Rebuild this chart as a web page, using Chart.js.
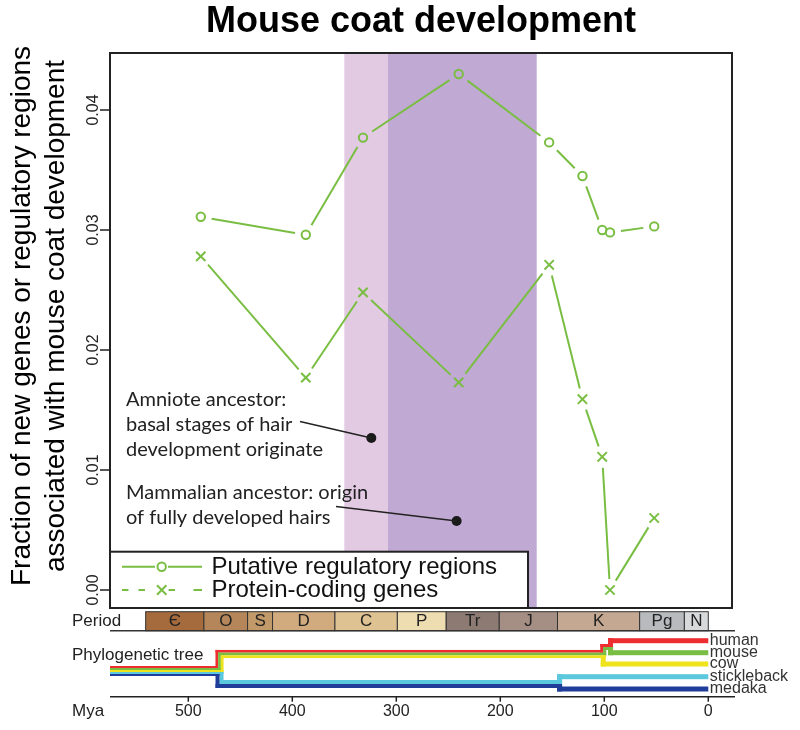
<!DOCTYPE html>
<html>
<head>
<meta charset="utf-8">
<script src="https://cdn.jsdelivr.net/npm/chart.js@4.4.1/dist/chart.umd.min.js"></script>
<style>
  html, body { margin: 0; padding: 0; background: #fff; }
  #wrap { width: 800px; height: 730px; }
</style>
</head>
<body>
<div id="wrap"><canvas id="chart" width="800" height="730"></canvas></div>
<script>
// ===== Data (ages in million years ago) =====
const agesMya = [488, 387, 332, 240, 153, 121, 102, 94.5, 52];
const regulatoryFraction = [0.0311, 0.0296, 0.0377, 0.0430, 0.0373, 0.0345, 0.0300, 0.0298, 0.0303];
const codingFraction = [0.0278, 0.0177, 0.0248, 0.0173, 0.0271, 0.0159, 0.0111, 0.0000, 0.0060];
const yTicks = [0, 0.01, 0.02, 0.03, 0.04];
const myaTicks = [500, 400, 300, 200, 100, 0];

// shaded windows (Mya)
const amnioteWindow = [350, 308];
const mammalWindow = [308, 165];

// annotated ancestors
const ancestorMya = [324, 242];
const ancestorFraction = [0.01267, 0.00575];
const ancestorText = [
  ["Amniote ancestor:", "basal stages of hair", "development originate"],
  ["Mammalian ancestor: origin", "of fully developed hairs"]
];

// geological periods
const periodBounds = [541, 485, 443, 419, 359, 299, 252, 201, 145, 66, 23, 0];
const periodLabels = ["Є", "O", "S", "D", "C", "P", "Tr", "J", "K", "Pg", "N"];

// phylogenetic tree
const species = ["human", "mouse", "cow", "stickleback", "medaka"];
const splitMya = { vertebrate: 470, teleost: 143, boreoeutheria: 101, euarchontoglires: 94 };

// ===== Styles =====
const FONT = "'Liberation Sans', Arial, sans-serif";
const NOTE_FONT = "Lato, 'Open Sans', sans-serif";
const GREEN = "#79BE43";
const INK = "#222";
const periodColors = ["#A56B3D", "#B58659", "#C29A6A", "#D1AB7E", "#DFC292", "#EEDDB0",
                      "#8D7B73", "#A58E83", "#C4A891", "#B8BABD", "#D8D9DB"];
const speciesColors = ["#ED2D2F", "#78BE43", "#EEE31C", "#5CC8DD", "#203D99"];

// ===== Helpers =====
function gappedLine(ctx, pts, gap) {
  for (let i = 0; i < pts.length - 1; i++) {
    const p = pts[i], q = pts[i + 1];
    const dx = q.x - p.x, dy = q.y - p.y;
    const len = Math.hypot(dx, dy);
    if (len <= gap * 2) continue;
    const ux = dx / len, uy = dy / len;
    ctx.beginPath();
    ctx.moveTo(p.x + ux * gap, p.y + uy * gap);
    ctx.lineTo(q.x - ux * gap, q.y - uy * gap);
    ctx.stroke();
  }
}

function rotatedText(ctx, text, x, y) {
  ctx.save();
  ctx.translate(x, y);
  ctx.rotate(-Math.PI / 2);
  ctx.fillText(text, 0, 0);
  ctx.restore();
}

// one lineage drawn as horizontal runs joined by short vertical steps
function drawRoute(ctx, x, runs, turns, color) {
  ctx.fillStyle = color;
  const px = runs.map(r => [x.getPixelForValue(r[0]), x.getPixelForValue(r[1])]);
  for (let i = 0; i < runs.length; i++) {
    const [, , y, w] = runs[i];
    let x0 = px[i][0], x1 = px[i][1];
    if (i > 0) x0 = px[i][0] + turns[i - 1] - w / 2;
    if (i < runs.length - 1) x1 = px[i][1] + turns[i] + runs[i + 1][3] / 2;
    ctx.fillRect(x0, y - w / 2, x1 - x0, w);
    if (i > 0) {
      const [, , yp, wp] = runs[i - 1];
      const xt = px[i][0] + turns[i - 1];
      const top = Math.min(yp - wp / 2, y - w / 2);
      const bot = Math.max(yp + wp / 2, y + w / 2);
      ctx.fillRect(xt - w / 2, top, w, bot - top);
    }
  }
}

// ===== Decorations drawn with the chart's own scales =====
const decor = {
  id: "decor",
  beforeDatasetsDraw(chart) {
    const { ctx, chartArea: a, scales: { x } } = chart;
    ctx.save();
    const band = (win, col) => {
      const l = x.getPixelForValue(win[0]), r = x.getPixelForValue(win[1]);
      ctx.fillStyle = col;
      ctx.fillRect(l, a.top, r - l, a.bottom - a.top);
    };
    band(amnioteWindow, "#E3CAE3");
    band(mammalWindow, "#C0A9D3");

    // connecting lines, broken around the symbols
    ctx.strokeStyle = GREEN;
    ctx.lineWidth = 2;
    [0, 1].forEach(i => {
      const pts = chart.getDatasetMeta(i).data.map(e => ({ x: e.x, y: e.y }));
      gappedLine(ctx, pts, 11);
    });
    ctx.restore();
  },

  afterDatasetsDraw(chart) {
    const { ctx, chartArea: a, scales: { x, y } } = chart;
    ctx.save();

    // annotations
    ctx.fillStyle = INK;
    ctx.font = "20px " + NOTE_FONT;
    ctx.textAlign = "left";
    ctx.textBaseline = "middle";
    ancestorText[0].forEach((t, i) => ctx.fillText(t, 126, 400 + i * 24.7));
    ancestorText[1].forEach((t, i) => ctx.fillText(t, 126, 493 + i * 25));
    const leaderStart = [[300, 421.5], [336, 506.5]];
    ctx.strokeStyle = INK;
    ctx.lineWidth = 1.5;
    ancestorMya.forEach((m, i) => {
      ctx.beginPath();
      ctx.moveTo(leaderStart[i][0], leaderStart[i][1]);
      ctx.lineTo(x.getPixelForValue(m), y.getPixelForValue(ancestorFraction[i]));
      ctx.stroke();
    });

    // legend
    const lx = a.left, ly = 551.7;
    ctx.fillStyle = "#fff";
    ctx.fillRect(lx, ly, 528 - lx, a.bottom - ly);
    ctx.strokeStyle = INK;
    ctx.lineWidth = 2;
    ctx.strokeRect(lx, ly, 528 - lx, a.bottom - ly);
    ctx.strokeStyle = GREEN;
    ctx.lineWidth = 2;
    const seg = (x0, x1, yy) => { ctx.beginPath(); ctx.moveTo(x0, yy); ctx.lineTo(x1, yy); ctx.stroke(); };
    seg(122, 155, 566.7); seg(168, 202, 566.7);
    ctx.beginPath(); ctx.arc(161.7, 566.7, 4.2, 0, Math.PI * 2); ctx.stroke();
    [[122, 128.5], [138.5, 145], [168.5, 175], [193.5, 202]].forEach(d => seg(d[0], d[1], 590));
    ctx.beginPath();
    ctx.moveTo(157, 585.3); ctx.lineTo(166.4, 594.7);
    ctx.moveTo(166.4, 585.3); ctx.lineTo(157, 594.7);
    ctx.stroke();
    ctx.fillStyle = "#111";
    ctx.font = "24px " + FONT;
    ctx.fillText("Putative regulatory regions", 211.5, 567);
    ctx.fillText("Protein-coding genes", 211.5, 590.5);

    // plot frame
    ctx.strokeStyle = INK;
    ctx.lineWidth = 2;
    ctx.strokeRect(a.left, a.top, a.right - a.left, a.bottom - a.top);

    // y axis ticks and rotated labels
    ctx.lineWidth = 1.5;
    ctx.fillStyle = INK;
    ctx.font = "16px " + FONT;
    ctx.textAlign = "center";
    ctx.textBaseline = "alphabetic";
    yTicks.forEach(v => {
      const py = y.getPixelForValue(v);
      ctx.beginPath(); ctx.moveTo(a.left - 10, py); ctx.lineTo(a.left, py); ctx.stroke();
      rotatedText(ctx, v.toFixed(2), 98, py);
    });

    // y axis title
    ctx.fillStyle = "#000";
    ctx.font = "28px " + FONT;
    rotatedText(ctx, "Fraction of new genes or regulatory regions", 30, 316);
    rotatedText(ctx, "associated with mouse coat development", 64, 316);

    // geological periods
    const pTop = 611.7, pBot = 630.7;
    ctx.lineWidth = 1;
    ctx.font = "17px " + FONT;
    ctx.textBaseline = "middle";
    for (let i = 0; i < periodLabels.length; i++) {
      const l = x.getPixelForValue(periodBounds[i]);
      const r = x.getPixelForValue(periodBounds[i + 1]);
      ctx.fillStyle = periodColors[i];
      ctx.fillRect(l, pTop, r - l, pBot - pTop);
      ctx.strokeStyle = "#333";
      ctx.strokeRect(l, pTop, r - l, pBot - pTop);
      ctx.fillStyle = INK;
      ctx.fillText(periodLabels[i], (l + r) / 2, (pTop + pBot) / 2 + 0.5);
    }
    ctx.strokeStyle = "#333";
    ctx.lineWidth = 1.5;
    seg(a.left, 735, pBot);

    // side labels
    ctx.fillStyle = INK;
    ctx.font = "17px " + FONT;
    ctx.textAlign = "left";
    ctx.fillText("Period", 72, 621.5);
    ctx.fillText("Phylogenetic tree", 72, 655);
    ctx.fillText("Mya", 72, 711);

    // phylogenetic tree
    const root = x.max, v = splitMya.vertebrate, t = splitMya.teleost;
    const b = splitMya.boreoeutheria, e = splitMya.euarchontoglires;
    const routes = [
      [[[root, v, 667, 2], [v, b, 651.3, 2.7], [b, e, 645.5, 3], [e, 0, 640.7, 5]], [-2.7, -1.5, 0]],
      [[[root, v, 669, 2], [v, b, 654, 2.7], [b, e, 648.5, 3], [e, 0, 652.7, 5]], [0, 1.5, 0]],
      [[[root, v, 671, 2], [v, b, 656.7, 2.7], [b, 0, 664, 5]], [2.7, 0]],
      [[[root, v, 673, 2], [v, t, 682, 4], [t, 0, 676.7, 5]], [2, 0]],
      [[[root, v, 675, 2], [v, t, 686, 4], [t, 0, 689, 5]], [-2, 0]]
    ];
    routes.forEach((rt, i) => drawRoute(ctx, x, rt[0], rt[1], speciesColors[i]));
    ctx.fillStyle = "#333";
    ctx.font = "16px " + FONT;
    const tipY = [640.7, 652.7, 664, 676.7, 689];
    species.forEach((s, i) => ctx.fillText(s, x.getPixelForValue(0) + 1.5, tipY[i]));

    // Mya axis
    const axY = 696.7;
    ctx.strokeStyle = INK;
    ctx.lineWidth = 1.5;
    seg(a.left, 735, axY);
    ctx.textAlign = "center";
    ctx.fillStyle = INK;
    ctx.font = "16px " + FONT;
    myaTicks.forEach(m => {
      const px = x.getPixelForValue(m);
      ctx.beginPath(); ctx.moveTo(px, axY); ctx.lineTo(px, axY + 5); ctx.stroke();
      ctx.fillText(String(m), px, 711.5);
    });
    ctx.restore();
  }
};

// ===== Chart =====
const toPoints = vals => agesMya.map((m, i) => ({ x: m, y: vals[i] }));

new Chart(document.getElementById("chart"), {
  type: "scatter",
  data: {
    datasets: [
      {
        label: "Putative regulatory regions",
        data: toPoints(regulatoryFraction),
        showLine: false,
        pointStyle: "circle",
        pointRadius: 4.2,
        pointBorderWidth: 2,
        pointBorderColor: GREEN,
        pointBackgroundColor: "rgba(0,0,0,0)"
      },
      {
        label: "Protein-coding genes",
        data: toPoints(codingFraction),
        showLine: false,
        pointStyle: "crossRot",
        pointRadius: 6.6,
        pointBorderWidth: 2,
        pointBorderColor: GREEN,
        pointBackgroundColor: GREEN
      },
      {
        label: "ancestors",
        data: ancestorMya.map((m, i) => ({ x: m, y: ancestorFraction[i] })),
        showLine: false,
        pointRadius: 5,
        pointBorderWidth: 0,
        pointBackgroundColor: "#1a1a1a"
      }
    ]
  },
  options: {
    responsive: false,
    animation: false,
    events: [],
    layout: { padding: { left: 110, right: 68, top: 0, bottom: 122 } },
    plugins: {
      legend: { display: false },
      tooltip: { enabled: false },
      title: {
        display: true,
        text: "Mouse coat development",
        color: "#000",
        font: { family: FONT, size: 36, weight: "bold", lineHeight: 1.2 },
        padding: { top: 0, bottom: 9.8 }
      }
    },
    scales: {
      x: { type: "linear", reverse: true, min: -22.8, max: 575.3, display: false },
      y: { type: "linear", min: -0.0015, max: 0.04475, display: false }
    }
  },
  plugins: [decor]
});
</script>
</body>
</html>
